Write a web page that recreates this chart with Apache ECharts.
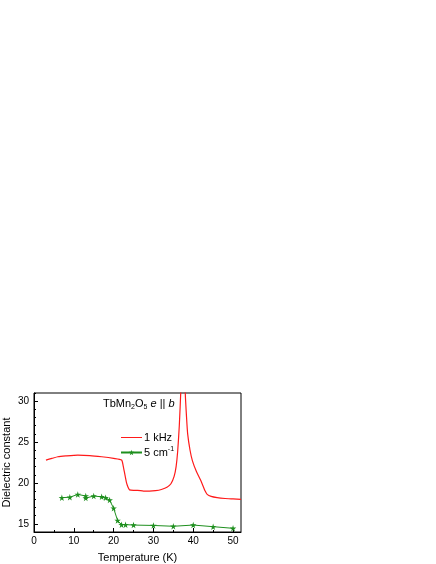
<!DOCTYPE html>
<html>
<head>
<meta charset="utf-8">
<script src="https://cdn.jsdelivr.net/npm/echarts@6/dist/echarts.min.js"></script>
<style>
  html, body { margin: 0; padding: 0; background: #fff; }
  #main { width: 436px; height: 564px; }
</style>
</head>
<body>
<div id="main"></div>
<script>
// 1 kHz dielectric constant (continuous curve)
var kHzT = [3, 4.5, 6, 8, 11, 14, 17, 20, 22, 22.4, 22.8, 23.2, 23.6, 24, 25, 26, 27.5, 29, 30.5, 32, 33.5, 34.4, 35.2, 35.7, 36.1, 36.5, 36.9, 37.45, 38.0, 38.3, 38.6, 39.2, 39.8, 40.8, 41.9, 43, 43.5, 44.5, 46, 48, 50, 52];
var kHzEps = [22.8, 23.0, 23.2, 23.3, 23.4, 23.35, 23.2, 23.0, 22.8, 22.1, 21.1, 20.1, 19.5, 19.15, 19.1, 19.1, 19.0, 19.0, 19.05, 19.2, 19.5, 19.9, 20.8, 22.0, 23.9, 27.0, 31.5, 40, 31.0, 28.2, 26.0, 24.0, 22.7, 21.4, 20.3, 19.0, 18.6, 18.35, 18.2, 18.1, 18.05, 18.0];

// 5 cm-1 data points (stars)
var cmT = [7, 9, 11, 13, 13, 15, 17, 18, 19, 20, 21, 22, 23, 25, 30, 35, 40, 45, 50];
var cmEps = [18.2, 18.25, 18.6, 18.4, 18.15, 18.4, 18.3, 18.2, 17.9, 16.9, 15.4, 14.9, 14.9, 14.85, 14.8, 14.7, 14.85, 14.65, 14.45];

var xTicks = [0, 10, 20, 30, 40, 50];
var xMinor = [5, 15, 25, 35, 45];
var yTicks = [15, 20, 25, 30];
var yMinor = [14, 16, 17, 18, 19, 21, 22, 23, 24, 26, 27, 28, 29, 31];

var starPath = 'path://M50,0 L61,35 L98,35 L68,57 L79,91 L50,70 L21,91 L32,57 L2,35 L39,35 Z';
var font = 'Liberation Sans, Arial, sans-serif';

var myChart = echarts.init(document.getElementById('main'));

function pairs(xs, ys) {
  return xs.map(function (x, i) { return [x, ys[i]]; });
}

var option = {
  animation: false,
  textStyle: { fontFamily: font },
  grid: {
    left: 32, right: 195, top: 393, bottom: 32,
    show: true, borderColor: '#000', borderWidth: 1
  },
  legend: {
    orient: 'vertical',
    left: 120, top: 431, padding: 0,
    itemWidth: 21, itemHeight: 7, itemGap: 2,
    textStyle: {
      fontFamily: font, fontSize: 11, color: '#000', padding: [0, 0, 0, -3], lineHeight: 13,
      rich: { sup: { fontSize: 7, verticalAlign: 'top', lineHeight: 13, fontFamily: font } }
    },
    formatter: function (name) {
      return name === '5 cm-1' ? '5 cm{sup|-1}' : name;
    },
    data: [
      { name: '1 kHz', icon: 'path://M0,0 L40,0 L40,2 L0,2 Z' },
      { name: '5 cm-1' }
    ]
  },
  graphic: [{
    type: 'text', left: 103, top: 398,
    style: {
      text: 'TbMn{sub|2}O{sub|5} {i|e} || {i|b}',
      font: '11px ' + font, fill: '#000',
      rich: {
        sub: { fontSize: 7, verticalAlign: 'bottom', padding: [8, 0, 0, 0], fontFamily: font },
        i: { fontStyle: 'italic', fontSize: 11, fontFamily: font }
      }
    }
  }],
  xAxis: [{
    type: 'value', min: 0, max: 52, interval: 10,
    name: 'Temperature (K)', nameLocation: 'middle', nameGap: 20,
    nameTextStyle: { fontSize: 11, color: '#000', fontFamily: font },
    axisLine: { show: true, lineStyle: { color: '#000', width: 1 } },
    axisTick: { show: true, inside: true, length: 4, customValues: xTicks, lineStyle: { color: '#000' } },
    axisLabel: { fontSize: 10, color: '#000', margin: 4, customValues: xTicks },
    splitLine: { show: false }
  }, {
    type: 'value', min: 0, max: 52, position: 'bottom',
    axisLine: { show: false },
    axisTick: { show: true, inside: true, length: 2, customValues: xMinor, lineStyle: { color: '#000' } },
    axisLabel: { show: false },
    splitLine: { show: false }
  }],
  yAxis: [{
    type: 'value', min: 14, max: 31,
    name: 'Dielectric constant', nameLocation: 'middle', nameGap: 22,
    nameTextStyle: { fontSize: 11, color: '#000', fontFamily: font },
    axisLine: { show: true, lineStyle: { color: '#000', width: 1 } },
    axisTick: { show: true, inside: true, length: 4, customValues: yTicks, lineStyle: { color: '#000' } },
    axisLabel: { fontSize: 10, color: '#000', margin: 5, customValues: yTicks },
    splitLine: { show: false }
  }, {
    type: 'value', min: 14, max: 31, position: 'left',
    axisLine: { show: false },
    axisTick: { show: true, inside: true, length: 2, customValues: yMinor, lineStyle: { color: '#000' } },
    axisLabel: { show: false },
    splitLine: { show: false }
  }],
  series: [{
    name: '1 kHz',
    type: 'line',
    data: pairs(kHzT, kHzEps),
    symbol: 'none',
    smooth: 0.2,
    clip: true,
    itemStyle: { color: '#ff1a1a' },
    lineStyle: { color: '#ff1a1a', width: 1.2 }
  }, {
    name: '5 cm-1',
    type: 'line',
    data: pairs(cmT, cmEps),
    symbol: starPath,
    symbolSize: 6.5,
    itemStyle: { color: '#1e8f1e' },
    lineStyle: { color: '#1e8f1e', width: 1 }
  }]
};

myChart.setOption(option, true);
</script>
</body>
</html>
